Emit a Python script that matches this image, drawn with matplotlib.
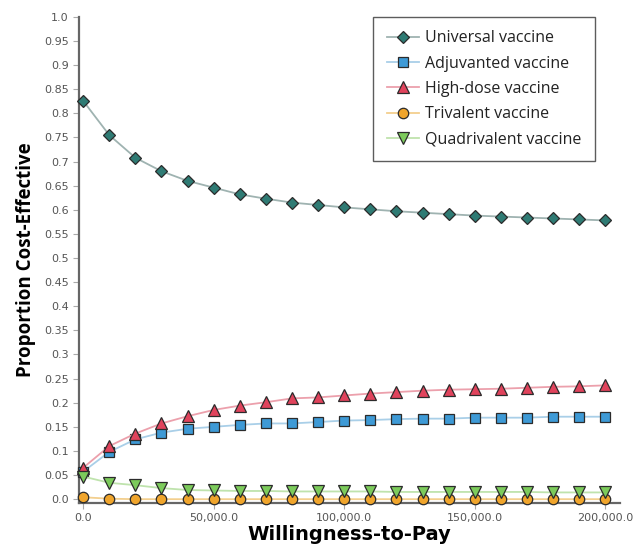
import matplotlib.pyplot as plt

# Willingness-to-pay grid (x values)
wtp = [0, 10000, 20000, 30000, 40000, 50000, 60000, 70000, 80000, 90000, 100000,
       110000, 120000, 130000, 140000, 150000, 160000, 170000, 180000, 190000, 200000]

# Proportion cost-effective
universal = [0.826, 0.755, 0.708, 0.680, 0.660, 0.646, 0.632, 0.623, 0.615, 0.610, 0.605,
             0.601, 0.597, 0.594, 0.591, 0.588, 0.586, 0.584, 0.582, 0.580, 0.578]
adjuvanted = [0.057, 0.098, 0.124, 0.138, 0.146, 0.150, 0.154, 0.157, 0.157, 0.160, 0.163,
              0.164, 0.166, 0.167, 0.167, 0.169, 0.169, 0.169, 0.171, 0.171, 0.171]
high_dose = [0.065, 0.110, 0.136, 0.157, 0.172, 0.185, 0.194, 0.201, 0.209, 0.211, 0.215,
             0.219, 0.222, 0.225, 0.227, 0.228, 0.229, 0.231, 0.233, 0.234, 0.236]
trivalent = [0.004, 0.001, 0.0, 0.0, 0.0, 0.0, 0.0, 0.0, 0.0, 0.0, 0.0,
             0.0, 0.0, 0.0, 0.0, 0.0, 0.0, 0.0, 0.0, 0.0, 0.0]
quadrivalent = [0.047, 0.034, 0.029, 0.023, 0.019, 0.018, 0.017, 0.017, 0.016, 0.016, 0.016,
                0.016, 0.015, 0.015, 0.015, 0.015, 0.015, 0.015, 0.014, 0.014, 0.014]

y_ticks = [0.0, 0.05, 0.1, 0.15, 0.2, 0.25, 0.3, 0.35, 0.4, 0.45, 0.5,
           0.55, 0.6, 0.65, 0.7, 0.75, 0.8, 0.85, 0.9, 0.95, 1.0]
y_tick_labels = ["0.0", "0.05", "0.1", "0.15", "0.2", "0.25", "0.3", "0.35", "0.4", "0.45", "0.5",
                 "0.55", "0.6", "0.65", "0.7", "0.75", "0.8", "0.85", "0.9", "0.95", "1.0"]
x_ticks = [0, 50000, 100000, 150000, 200000]
x_tick_labels = ["0.0", "50,000.0", "100,000.0", "150,000.0", "200,000.0"]

# (label, values, marker, fill colour, line colour, marker size)
series = [
    ("Universal vaccine", universal, "D", "#2f7b74", "#9fb3b1", 6.5),
    ("Adjuvanted vaccine", adjuvanted, "s", "#3e9ad6", "#a9cfe8", 7.5),
    ("High-dose vaccine", high_dose, "^", "#e0435c", "#eca0ac", 8),
    ("Trivalent vaccine", trivalent, "o", "#f0a52c", "#f3cf8e", 7.5),
    ("Quadrivalent vaccine", quadrivalent, "v", "#7ccb5b", "#bfe3ad", 8),
]

fig = plt.figure(figsize=(6.44, 5.45), dpi=100)
ax = fig.add_axes([0.123, 0.077, 0.840, 0.892])

for label, vals, marker, fill, line, ms in series:
    ax.plot(wtp, vals, color=line, linewidth=1.3, marker=marker, markersize=ms,
            markerfacecolor=fill, markeredgecolor="#2b2b2b", markeredgewidth=0.9,
            label=label, clip_on=False, zorder=3)

ax.set_xlim(-1500, 205700)
ax.set_ylim(-0.008, 1.0)
ax.set_yticks(y_ticks)
ax.set_yticklabels(y_tick_labels)
ax.set_xticks(x_ticks)
ax.set_xticklabels(x_tick_labels)
ax.tick_params(axis="both", labelsize=8, labelcolor="#555555", color="#aaaaaa",
               length=4, width=0.8)

for side in ["top", "right"]:
    ax.spines[side].set_visible(False)
for side in ["left", "bottom"]:
    ax.spines[side].set_color("#666666")
    ax.spines[side].set_linewidth(1.6)

ax.set_ylabel("Proportion Cost-Effective", fontsize=13.5, fontweight="bold",
              family="Open Sans", labelpad=6)
ax.set_xlabel("Willingness-to-Pay", fontsize=14, fontweight="bold", labelpad=1)

leg = ax.legend(loc="upper right", bbox_to_anchor=(0.954, 1.0), borderaxespad=0,
                frameon=True, fancybox=False, edgecolor="#333333",
                borderpad=0.85, labelspacing=0.58, handlelength=2.0, handletextpad=0.4,
                prop={"family": "Open Sans", "size": 11.5})
leg.get_frame().set_linewidth(1.0)
for t in leg.get_texts():
    t.set_color("#222222")

fig.savefig("out.png", dpi=100)
